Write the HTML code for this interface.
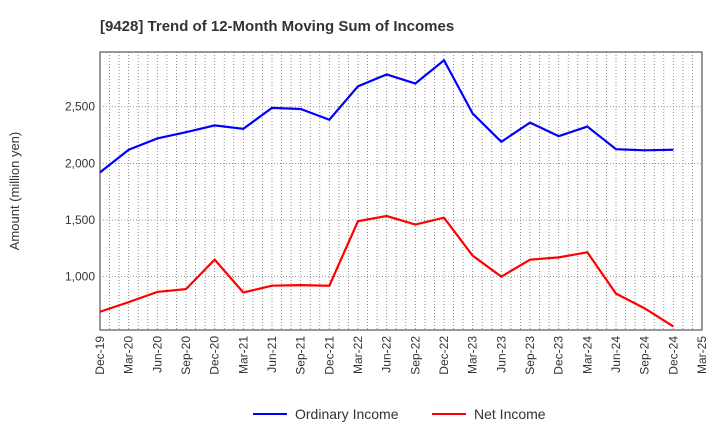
<!DOCTYPE html>
<html><head><meta charset="utf-8"><style>
body{margin:0;background:#fff;font-family:"Liberation Sans",sans-serif;}
svg text{font-family:"Liberation Sans",sans-serif;}
</style></head><body>
<svg id="chart" width="720" height="440" xmlns="http://www.w3.org/2000/svg">
<text x="100" y="31" font-size="15" font-weight="bold" fill="#333">[9428]  Trend of 12-Month Moving Sum of Incomes</text>
<rect x="100" y="52" width="602" height="278" fill="#fff" stroke="#333" stroke-width="1"/>
<g id="grid"></g><g id="axes"></g><g id="series"></g>
<text transform="translate(19,191) rotate(-90)" text-anchor="middle" font-size="13" fill="#333">Amount (million yen)</text>
<g>
<line x1="253" y1="414" x2="287" y2="414" stroke="#0000ff" stroke-width="2"/>
<text x="295" y="419" font-size="14" fill="#333">Ordinary Income</text>
<line x1="432" y1="414" x2="466" y2="414" stroke="#ff0000" stroke-width="2"/>
<text x="474" y="419" font-size="14" fill="#333">Net Income</text>
</g>
</svg>
<script>
const categories=["Dec-19","Mar-20","Jun-20","Sep-20","Dec-20","Mar-21","Jun-21","Sep-21","Dec-21","Mar-22","Jun-22","Sep-22","Dec-22","Mar-23","Jun-23","Sep-23","Dec-23","Mar-24","Jun-24","Sep-24","Dec-24","Mar-25"];
const ordinaryIncome=[1920,2120,2220,2275,2335,2305,2490,2480,2385,2680,2785,2705,2910,2440,2190,2360,2240,2325,2125,2115,2120];
const netIncome=[690,775,865,890,1150,860,920,925,920,1490,1535,1460,1520,1185,1000,1150,1170,1215,850,720,560];
const yTicks=[1000,1500,2000,2500];
const yTickLabels=["1,000","1,500","2,000","2,500"];
const NS="http://www.w3.org/2000/svg";
const X0=100,X1=702,Y0=52,Y1=330,VMIN=529,VMAX=2983;
const xs=i=>X0+i*(X1-X0)/(categories.length-1);
const ys=v=>Y1-(v-VMIN)/(VMAX-VMIN)*(Y1-Y0);
function mk(tag,attrs,parent){const e=document.createElementNS(NS,tag);for(const k in attrs)e.setAttribute(k,attrs[k]);parent.appendChild(e);return e;}
const grid=document.getElementById('grid'),axes=document.getElementById('axes'),series=document.getElementById('series');
const nMonths=(categories.length-1)*3;
for(let m=1;m<nMonths;m++){
 const x=xs(m/3);
 const g=mk('line',{x1:x,x2:x,y1:Y0,y2:Y1,stroke:'#777','stroke-width':0.8,'stroke-dasharray':'1,2'},grid);
 
 
}
categories.forEach((c,i)=>{
 const x=xs(i);
 const t=mk('text',{transform:`translate(${x+4},${Y1+6}) rotate(-90)`,'text-anchor':'end','font-size':12,fill:'#333'},axes);
 t.textContent=c;
 
 
});
yTicks.forEach((v,i)=>{
 const y=ys(v);
 const g=mk('line',{x1:X0,x2:X1,y1:y,y2:y,stroke:'#777','stroke-width':0.8,'stroke-dasharray':'1,2'},grid);
 
 
 const t=mk('text',{x:X0-5,y:y+4,'text-anchor':'end','font-size':12,fill:'#333'},axes);
 t.textContent=yTickLabels[i];
 
 
});
function line(data,color,name){
 const p=mk('polyline',{points:data.map((v,i)=>xs(i)+','+ys(v)).join(' '),fill:'none',stroke:color,'stroke-width':2.2},series);
 
 
}
line(ordinaryIncome,'#0000ff','ordinary-income-line');
line(netIncome,'#ff0000','net-income-line');
</script>
</body></html>
